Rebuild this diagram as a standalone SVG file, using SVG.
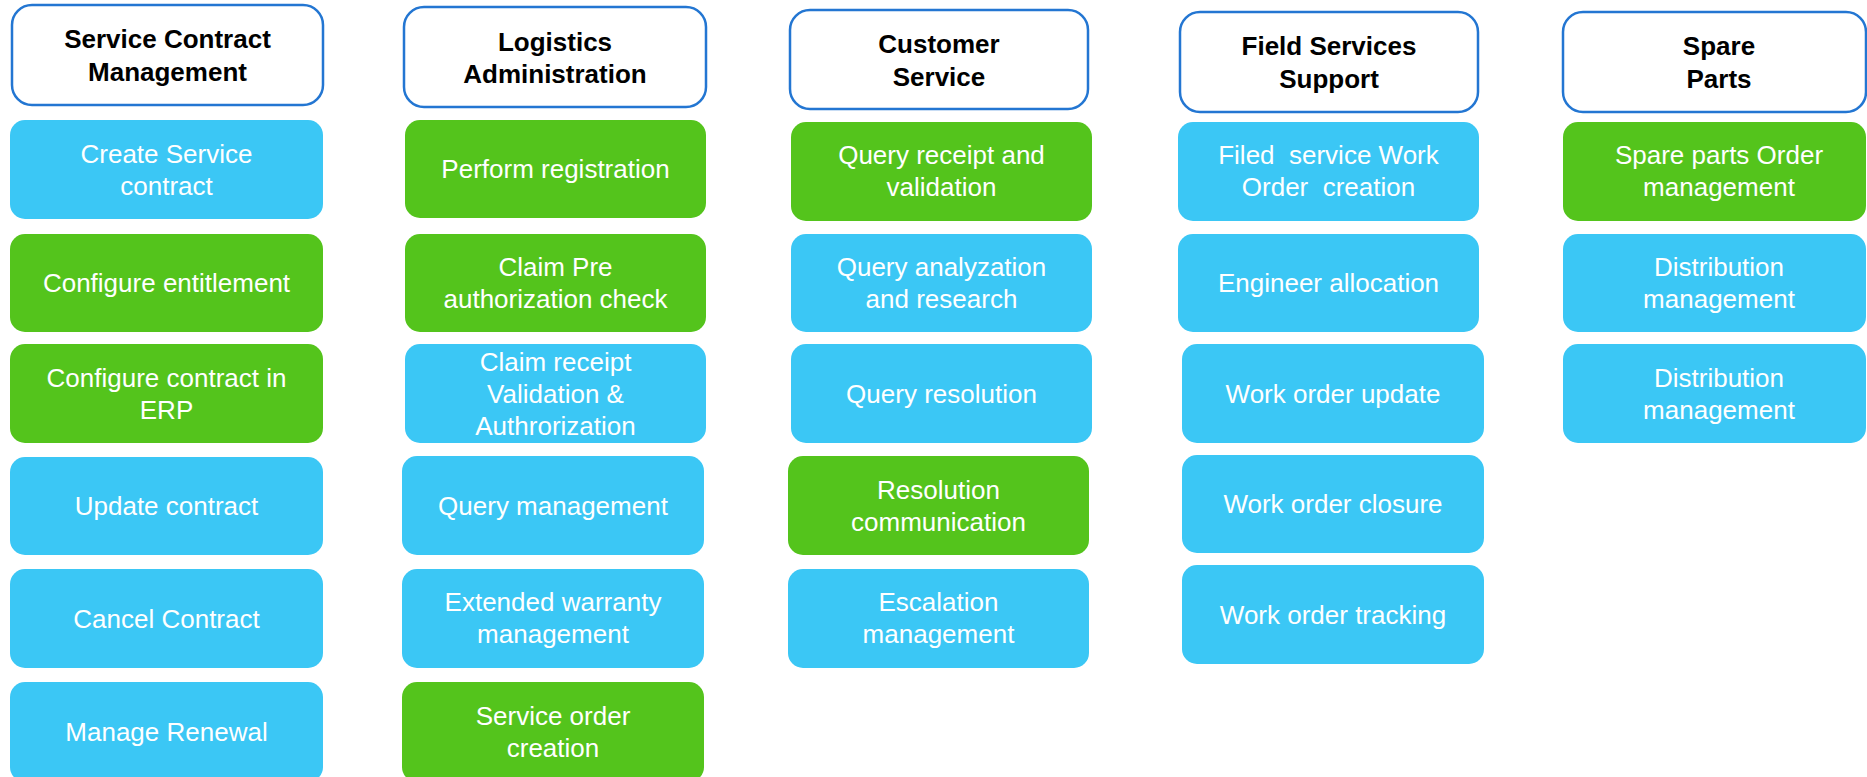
<svg xmlns="http://www.w3.org/2000/svg" width="1867" height="777" viewBox="0 0 1867 777">
<style>
.hdr{fill:#ffffff;stroke:#2376d2;stroke-width:2.5}
.blue{fill:#3bc7f5}
.green{fill:#54c41c}
.ht{font-family:"Liberation Sans",Arial,sans-serif;font-size:26px;font-weight:bold;fill:#000;text-anchor:middle}
.bt{font-family:"Liberation Sans",Arial,sans-serif;font-size:26px;fill:#fff;text-anchor:middle;white-space:pre}
</style>
<rect width="1867" height="777" fill="#fff"/>
<g id="connectors"/>

<!-- Column 1 -->
<g id="h1"><rect class="hdr" x="12" y="5" width="311" height="100" rx="20"/><text class="ht"><tspan x="167.5" y="48">Service Contract</tspan><tspan x="167.5" y="81">Management</tspan></text></g>
<g id="c1r1"><rect class="blue" x="10" y="120" width="313" height="99" rx="15"/><text class="bt"><tspan x="166.5" y="163">Create Service</tspan><tspan x="166.5" y="195">contract</tspan></text></g>
<g id="c1r2"><rect class="green" x="10" y="234" width="313" height="98" rx="15"/><text class="bt" x="166.5" y="292">Configure entitlement</text></g>
<g id="c1r3"><rect class="green" x="10" y="344" width="313" height="99" rx="15"/><text class="bt"><tspan x="166.5" y="387">Configure contract in</tspan><tspan x="166.5" y="419">ERP</tspan></text></g>
<g id="c1r4"><rect class="blue" x="10" y="457" width="313" height="98" rx="15"/><text class="bt" x="166.5" y="515">Update contract</text></g>
<g id="c1r5"><rect class="blue" x="10" y="569" width="313" height="99" rx="15"/><text class="bt" x="166.5" y="628">Cancel Contract</text></g>
<g id="c1r6"><rect class="blue" x="10" y="682" width="313" height="100" rx="15"/><text class="bt" x="166.5" y="741">Manage Renewal</text></g>

<!-- Column 2 -->
<g id="h2"><rect class="hdr" x="404" y="7" width="302" height="100" rx="20"/><text class="ht"><tspan x="555" y="51">Logistics</tspan><tspan x="555" y="83">Administration</tspan></text></g>
<g id="c2r1"><rect class="green" x="405" y="120" width="301" height="98" rx="15"/><text class="bt" x="555.5" y="178">Perform registration</text></g>
<g id="c2r2"><rect class="green" x="405" y="234" width="301" height="98" rx="15"/><text class="bt"><tspan x="555.5" y="276">Claim Pre</tspan><tspan x="555.5" y="308">authorization check</tspan></text></g>
<g id="c2r3"><rect class="blue" x="405" y="344" width="301" height="99" rx="15"/><text class="bt"><tspan x="555.5" y="371">Claim receipt</tspan><tspan x="555.5" y="403">Validation &amp;</tspan><tspan x="555.5" y="435">Authrorization</tspan></text></g>
<g id="c2r4"><rect class="blue" x="402" y="456" width="302" height="99" rx="15"/><text class="bt" x="553" y="515">Query management</text></g>
<g id="c2r5"><rect class="blue" x="402" y="569" width="302" height="99" rx="15"/><text class="bt"><tspan x="553" y="611">Extended warranty</tspan><tspan x="553" y="643">management</tspan></text></g>
<g id="c2r6"><rect class="green" x="402" y="682" width="302" height="100" rx="15"/><text class="bt"><tspan x="553" y="725">Service order</tspan><tspan x="553" y="757">creation</tspan></text></g>

<!-- Column 3 -->
<g id="h3"><rect class="hdr" x="790" y="10" width="298" height="99" rx="20"/><text class="ht"><tspan x="939" y="53">Customer</tspan><tspan x="939" y="86">Service</tspan></text></g>
<g id="c3r1"><rect class="green" x="791" y="122" width="301" height="99" rx="15"/><text class="bt"><tspan x="941.5" y="164">Query receipt and</tspan><tspan x="941.5" y="196">validation</tspan></text></g>
<g id="c3r2"><rect class="blue" x="791" y="234" width="301" height="98" rx="15"/><text class="bt"><tspan x="941.5" y="276">Query analyzation</tspan><tspan x="941.5" y="308">and research</tspan></text></g>
<g id="c3r3"><rect class="blue" x="791" y="344" width="301" height="99" rx="15"/><text class="bt" x="941.5" y="403">Query resolution</text></g>
<g id="c3r4"><rect class="green" x="788" y="456" width="301" height="99" rx="15"/><text class="bt"><tspan x="938.5" y="499">Resolution</tspan><tspan x="938.5" y="531">communication</tspan></text></g>
<g id="c3r5"><rect class="blue" x="788" y="569" width="301" height="99" rx="15"/><text class="bt"><tspan x="938.5" y="611">Escalation</tspan><tspan x="938.5" y="643">management</tspan></text></g>

<!-- Column 4 -->
<g id="h4"><rect class="hdr" x="1180" y="12" width="298" height="100" rx="20"/><text class="ht"><tspan x="1329" y="55">Field Services</tspan><tspan x="1329" y="88">Support</tspan></text></g>
<g id="c4r1"><rect class="blue" x="1178" y="122" width="301" height="99" rx="15"/><text class="bt"><tspan x="1328.5" y="164">Filed  service Work</tspan><tspan x="1328.5" y="196">Order  creation</tspan></text></g>
<g id="c4r2"><rect class="blue" x="1178" y="234" width="301" height="98" rx="15"/><text class="bt" x="1328.5" y="292">Engineer allocation</text></g>
<g id="c4r3"><rect class="blue" x="1182" y="344" width="302" height="99" rx="15"/><text class="bt" x="1333" y="403">Work order update</text></g>
<g id="c4r4"><rect class="blue" x="1182" y="455" width="302" height="98" rx="15"/><text class="bt" x="1333" y="513">Work order closure</text></g>
<g id="c4r5"><rect class="blue" x="1182" y="565" width="302" height="99" rx="15"/><text class="bt" x="1333" y="624">Work order tracking</text></g>

<!-- Column 5 -->
<g id="h5"><rect class="hdr" x="1563" y="12" width="303" height="100" rx="20"/><text class="ht"><tspan x="1719" y="55">Spare</tspan><tspan x="1719" y="88">Parts</tspan></text></g>
<g id="c5r1"><rect class="green" x="1563" y="122" width="303" height="99" rx="15"/><text class="bt"><tspan x="1719" y="164">Spare parts Order</tspan><tspan x="1719" y="196">management</tspan></text></g>
<g id="c5r2"><rect class="blue" x="1563" y="234" width="303" height="98" rx="15"/><text class="bt"><tspan x="1719" y="276">Distribution</tspan><tspan x="1719" y="308">management</tspan></text></g>
<g id="c5r3"><rect class="blue" x="1563" y="344" width="303" height="99" rx="15"/><text class="bt"><tspan x="1719" y="387">Distribution</tspan><tspan x="1719" y="419">management</tspan></text></g>
</svg>
